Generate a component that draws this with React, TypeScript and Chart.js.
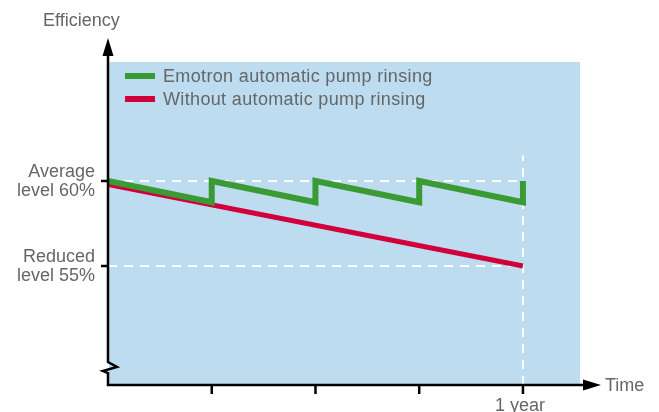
import React, { useEffect, useRef } from "react";
import { Chart, registerables } from "chart.js";

Chart.register(...registerables);

// ---- data ----
const xMin = 0;
const xMax = 4.55;
const yMin = 48;
const yMax = 67;

const emotronX = [0, 1, 1, 2, 2, 3, 3, 4, 4];
const emotronY = [60, 58.75, 60, 58.75, 60, 58.75, 60, 58.75, 60];

const withoutX = [0, 4];
const withoutY = [59.8, 55];

const averageLevel = 60;
const reducedLevel = 55;
const oneYear = 4;
const guideTop = 61.5;

const seriesLabels = ["Emotron automatic pump rinsing", "Without automatic pump rinsing"];
const seriesColors = ["#3a9b35", "#d2003a"];

const yTickValues = [60, 55];
const yTickLabels = [
  ["Average", "level 60%"],
  ["Reduced", "level 55%"],
];
const xTickValues = [1, 2, 3, 4];
const xTickLabels = ["", "", "", "1 year"];

const yAxisTitle = "Efficiency";
const xAxisTitle = "Time";

const FONT = "'Liberation Sans', Arial, sans-serif";
const TEXT = "#666666";

const zip = (xs: number[], ys: number[]) => xs.map((x, i) => ({ x, y: ys[i] }));

const chartDecor = {
  id: "chartDecor",
  beforeDraw(chart: any) {
    const { ctx, chartArea } = chart;
    ctx.save();
    ctx.fillStyle = "#bddcf0";
    ctx.fillRect(chartArea.left + 1, chartArea.top, chartArea.right - chartArea.left - 1, chartArea.bottom - chartArea.top);
    ctx.restore();
  },
  afterDraw(chart: any) {
    const { ctx, chartArea, scales } = chart;
    const xs = scales.x;
    const ys = scales.y;
    const x0 = xs.getPixelForValue(0);
    const yB = chartArea.bottom;
    ctx.save();
    ctx.strokeStyle = "#000";
    ctx.fillStyle = "#000";
    ctx.lineWidth = 2.5;
    ctx.lineJoin = "miter";
    // y axis with break
    ctx.beginPath();
    ctx.moveTo(x0, 50);
    ctx.lineTo(x0, yB - 23);
    ctx.lineTo(x0 + 9, yB - 18);
    ctx.lineTo(x0 - 5, yB - 14);
    ctx.lineTo(x0, yB - 12);
    ctx.lineTo(x0, yB);
    ctx.lineTo(590, yB);
    ctx.stroke();
    // arrows
    ctx.beginPath();
    ctx.moveTo(x0, 38);
    ctx.lineTo(x0 - 5.5, 56);
    ctx.lineTo(x0 + 5.5, 56);
    ctx.closePath();
    ctx.fill();
    ctx.beginPath();
    ctx.moveTo(601, yB);
    ctx.lineTo(583, yB - 5.5);
    ctx.lineTo(583, yB + 5.5);
    ctx.closePath();
    ctx.fill();
    // ticks
    ctx.lineWidth = 2.5;
    xTickValues.forEach((v) => {
      const px = xs.getPixelForValue(v);
      ctx.beginPath();
      ctx.moveTo(px, yB);
      ctx.lineTo(px, yB + 9);
      ctx.stroke();
    });
    yTickValues.forEach((v) => {
      const py = ys.getPixelForValue(v);
      ctx.beginPath();
      ctx.moveTo(x0 - 7, py);
      ctx.lineTo(x0, py);
      ctx.stroke();
    });
    // labels
    ctx.fillStyle = TEXT;
    ctx.font = `18px ${FONT}`;
    ctx.textBaseline = "middle";
    ctx.textAlign = "right";
    yTickValues.forEach((v, i) => {
      const py = ys.getPixelForValue(v);
      ctx.fillText(yTickLabels[i][0], 95, py - 9);
      ctx.fillText(yTickLabels[i][1], 95, py + 10);
    });
    ctx.textAlign = "center";
    xTickValues.forEach((v, i) => {
      if (!xTickLabels[i]) return;
      ctx.fillText(xTickLabels[i], xs.getPixelForValue(v) - 3, 406.5);
    });
    ctx.textAlign = "left";
    ctx.fillText(xAxisTitle, 605, yB + 1);
    ctx.fillText(yAxisTitle, 43, 21);
    // legend
    (ctx as any).letterSpacing = "0.35px";
    seriesLabels.forEach((lab, i) => {
      const ly = 76 + i * 23;
      ctx.fillStyle = seriesColors[i];
      ctx.fillRect(125, ly - 3, 30, 6);
      ctx.fillStyle = TEXT;
      ctx.fillText(lab, 163, ly + 1);
    });
    ctx.restore();
  },
};

export default function App() {
  const ref = useRef<HTMLCanvasElement>(null);
  useEffect(() => {
    document.body.style.margin = "0";
    const dash = [9, 7];
    const chart = new Chart(ref.current!, {
      type: "line",
      data: {
        datasets: [
          {
            label: seriesLabels[0],
            data: zip(emotronX, emotronY),
            borderColor: seriesColors[0],
            borderWidth: 6,
            pointRadius: 0,
            tension: 0,
            borderJoinStyle: "miter",
          } as any,
          {
            label: seriesLabels[1],
            data: zip(withoutX, withoutY),
            borderColor: seriesColors[1],
            borderWidth: 5,
            pointRadius: 0,
          },
          {
            label: "avg",
            data: zip([0, oneYear], [averageLevel, averageLevel]),
            borderColor: "#ffffff",
            borderWidth: 2,
            borderDash: dash,
            pointRadius: 0,
          },
          {
            label: "reduced",
            data: zip([0, oneYear], [reducedLevel, reducedLevel]),
            borderColor: "#ffffff",
            borderWidth: 2,
            borderDash: dash,
            pointRadius: 0,
          },
          {
            label: "year",
            data: zip([oneYear, oneYear], [yMin, guideTop]),
            borderColor: "#ffffff",
            borderWidth: 2,
            borderDash: dash,
            pointRadius: 0,
          },
        ],
      },
      options: {
        animation: false,
        responsive: false,
        layout: { padding: { left: 108, right: 79, top: 62, bottom: 27 } },
        scales: {
          x: { type: "linear", min: xMin, max: xMax, display: false },
          y: { type: "linear", min: yMin, max: yMax, display: false },
        },
        plugins: { legend: { display: false }, tooltip: { enabled: false } },
      },
      plugins: [chartDecor],
    });
    return () => chart.destroy();
  }, []);
  return <canvas ref={ref} width={659} height={412} style={{ display: "block" }} />;
}
